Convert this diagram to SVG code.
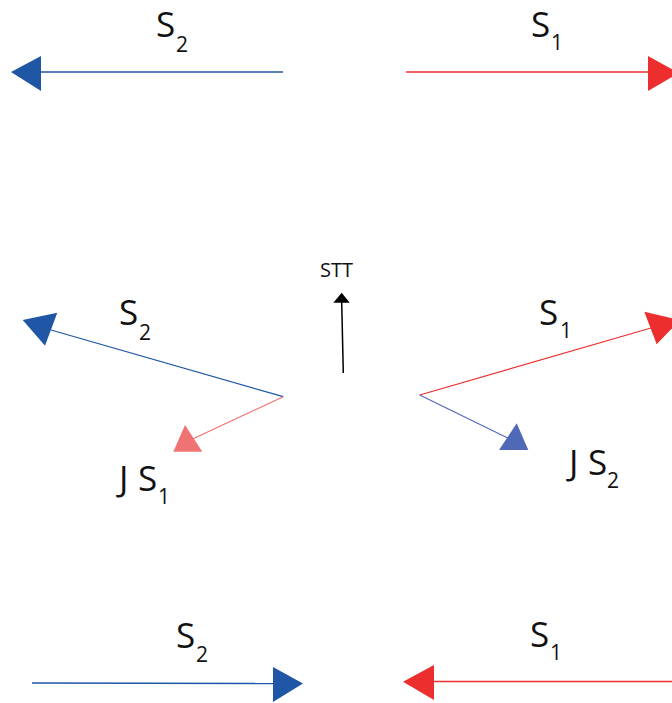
<svg xmlns="http://www.w3.org/2000/svg" width="672" height="703" viewBox="0 0 672 703">
<style>
.lbl{font-family:"Open Sans","Noto Sans","Liberation Sans",sans-serif;font-size:35px;fill:#111}
.sub{font-family:"Open Sans","Noto Sans","Liberation Sans",sans-serif;font-size:21px;fill:#111}
.stt{font-family:"Open Sans","Noto Sans","Liberation Sans",sans-serif;font-size:20px;fill:#111}
.blue{stroke:#1f56a6;fill:none}
.bluef{fill:#1f56a6}
.red{stroke:#ec2e2e;fill:none}
.redf{fill:#ec2e2e}
.pink{stroke:#f07272;fill:none}
.pinkf{fill:#f07272}
.mblue{stroke:#5068b8;fill:none}
.mbluef{fill:#5068b8}
</style>
<rect width="672" height="703" fill="#fff"/>
<g id="connectors">
  <g id="top-s2">
    <line class="blue" x1="283" y1="72" x2="40" y2="72" stroke-width="1.6"/>
    <polygon class="bluef" points="11,72 41,56 41,91"/>
  </g>
  <g id="top-s1">
    <line class="red" x1="406" y1="72" x2="649" y2="72" stroke-width="1.6"/>
    <polygon class="redf" points="679,73 648,56 648,91"/>
  </g>
  <g id="mid-s2">
    <line class="blue" x1="283.3" y1="396.7" x2="51" y2="330" stroke-width="1.2"/>
    <polygon class="bluef" points="22.7,320 57.3,312.7 45,345.7"/>
  </g>
  <g id="mid-js1">
    <line class="pink" x1="283.3" y1="396.7" x2="186.7" y2="441.7" stroke-width="1.2"/>
    <polygon class="pinkf" points="185,425 173.3,451.7 202.3,451.7"/>
  </g>
  <g id="mid-s1">
    <line class="red" x1="419.7" y1="395" x2="651" y2="328" stroke-width="1.2"/>
    <polygon class="redf" points="644.3,311.7 656.7,344.3 680,320"/>
  </g>
  <g id="mid-js2">
    <line class="mblue" x1="419.7" y1="395" x2="511.7" y2="440" stroke-width="1.2"/>
    <polygon class="mbluef" points="516.7,423.3 499,450 528.3,450"/>
  </g>
  <g id="stt-arrow">
    <line x1="343.3" y1="373" x2="341.7" y2="302" stroke="#000" stroke-width="1.5"/>
    <polygon fill="#000" points="341.7,292.7 333.3,302.7 349.7,302.7"/>
  </g>
  <g id="bot-s2">
    <line class="blue" x1="32" y1="683" x2="274" y2="683.5" stroke-width="1.6"/>
    <polygon class="bluef" points="303,683.5 273,667 273,702"/>
  </g>
  <g id="bot-s1">
    <line class="red" x1="672" y1="681.5" x2="433" y2="681.5" stroke-width="1.6"/>
    <polygon class="redf" points="403,681.7 434,665 434,700"/>
  </g>
</g>
<g id="label-top-s2"><text class="lbl" x="156" y="37">S</text><text class="sub" x="176" y="52">2</text></g>
<g id="label-top-s1"><text class="lbl" x="531" y="37">S</text><text class="sub" x="551" y="50">1</text></g>
<g id="label-stt"><text class="stt" x="320" y="277">STT</text></g>
<g id="label-mid-s2"><text class="lbl" x="119" y="325">S</text><text class="sub" x="139" y="340">2</text></g>
<g id="label-mid-s1"><text class="lbl" x="539" y="325">S</text><text class="sub" x="560" y="338">1</text></g>
<g id="label-js1"><text class="lbl" x="119" y="491">J</text><text class="lbl" x="138" y="491">S</text><text class="sub" x="158" y="504">1</text></g>
<g id="label-js2"><text class="lbl" x="569" y="475">J</text><text class="lbl" x="588" y="475">S</text><text class="sub" x="607" y="488">2</text></g>
<g id="label-bot-s2"><text class="lbl" x="176" y="648">S</text><text class="sub" x="196" y="662">2</text></g>
<g id="label-bot-s1"><text class="lbl" x="530" y="647">S</text><text class="sub" x="550" y="660">1</text></g>
</svg>
